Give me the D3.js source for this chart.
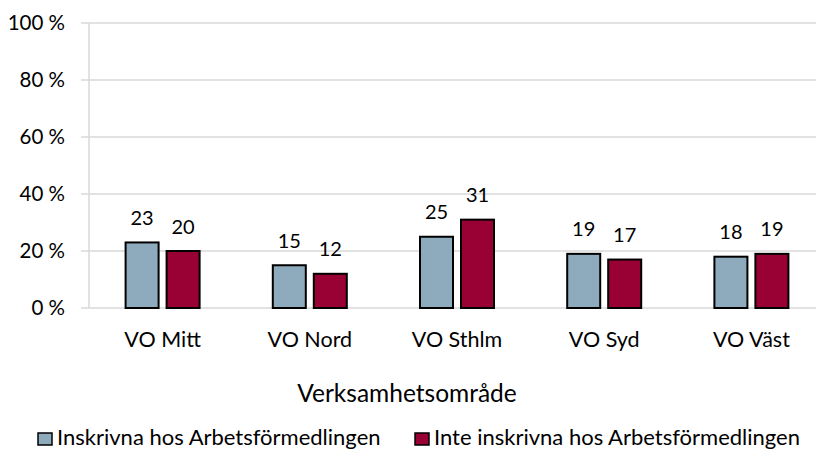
<!DOCTYPE html>
<html>
<head>
<meta charset="utf-8">
<style>
  body { margin: 0; background: #fff; }
  text { font-family: Lato, sans-serif; fill: #000; }
</style>
</head>
<body>
<svg id="svg" width="816" height="452"></svg>
<script src="https://d3js.org/d3.v7.min.js"></script>
<script>
const categories = ['VO Mitt', 'VO Nord', 'VO Sthlm', 'VO Syd', 'VO Väst']
const inskrivna = [23, 15, 25, 19, 18]
const inteInskrivna = [20, 12, 31, 17, 19]
const seriesNames = ['Inskrivna hos Arbetsförmedlingen', 'Inte inskrivna hos Arbetsförmedlingen']
const yTicks = [0, 20, 40, 60, 80, 100]
const colors = ['#8eaabd', '#990033']

function draw() {
  const svg = d3.select('#svg')
  const left = 89, right = 825, plotTop = 23, plotBottom = 308

  const x = d3.scaleBand().domain(categories).range([left, right])
  const xInner = d3.scaleBand().domain([0, 1]).range([0, 74]).paddingInner(0.195)
  const y = d3.scaleLinear().domain([0, 100]).range([plotBottom, plotTop])

  // gridlines
  svg.append('g')
    .selectAll('line')
    .data(yTicks)
    .join('line')
    .attr('x1', left - 8)
    .attr('x2', right)
    .attr('y1', d => y(d))
    .attr('y2', d => y(d))
    .attr('stroke', '#d9d9d9')
    .attr('stroke-width', 1.5)

  svg.append('line')
    .attr('x1', left).attr('x2', left)
    .attr('y1', plotTop).attr('y2', plotBottom)
    .attr('stroke', '#d9d9d9').attr('stroke-width', 1.5)

  // y labels
  svg.append('g')
    .selectAll('text')
    .data(yTicks)
    .join('text')
    .attr('x', 65)
    .attr('y', d => y(d) + 7)
    .attr('text-anchor', 'end')
    .attr('font-size', 20.5)
    .text(d => d + ' %')

  const series = [inskrivna, inteInskrivna]
  series.forEach((vals, si) => {
    const barX = i => x(categories[i]) + x.bandwidth() / 2 - 37 + xInner(si)
    const g = svg.append('g')
    g.selectAll('rect')
      .data(vals)
      .join('rect')
      .attr('x', (d, i) => barX(i))
      .attr('y', d => y(d))
      .attr('width', xInner.bandwidth())
      .attr('height', d => plotBottom - y(d))
      .attr('fill', colors[si])
      .attr('stroke', '#000')
      .attr('stroke-width', 2)
    g.selectAll('text')
      .data(vals)
      .join('text')
      .attr('x', (d, i) => barX(i) + xInner.bandwidth() / 2)
      .attr('y', d => y(d) - 17.5)
      .attr('text-anchor', 'middle')
      .attr('font-size', 20)
      .text(d => d)
  })

  // category labels
  svg.append('g')
    .selectAll('text')
    .data(categories)
    .join('text')
    .attr('x', d => x(d) + x.bandwidth() / 2)
    .attr('y', 346.5)
    .attr('text-anchor', 'middle')
    .attr('font-size', 21.5)
    .text(d => d)

  svg.append('text')
    .attr('x', 407)
    .attr('y', 402)
    .attr('text-anchor', 'middle')
    .attr('font-size', 24.5)
    .text('Verksamhetsområde')

  // legend
  const legendX = [38, 415]
  seriesNames.forEach((name, i) => {
    svg.append('rect')
      .attr('x', legendX[i]).attr('y', 433)
      .attr('width', 14).attr('height', 12)
      .attr('fill', colors[i]).attr('stroke', '#000').attr('stroke-width', 1.5)
    svg.append('text')
      .attr('x', legendX[i] + 19).attr('y', 445)
      .attr('font-size', 22)
      .text(name)
  })
}
draw()
</script>
</body>
</html>
